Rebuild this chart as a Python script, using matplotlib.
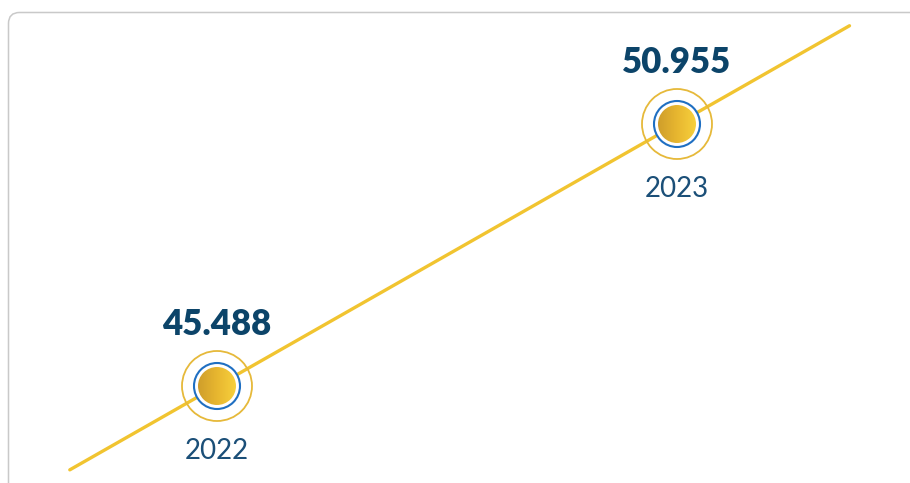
import numpy as np
import matplotlib
matplotlib.use("Agg")
import matplotlib.pyplot as plt
from matplotlib.patches import Ellipse, FancyBboxPatch
from matplotlib.colors import LinearSegmentedColormap

# Data
years = [2022, 2023]
values = [45.488, 50.955]
labels = ["45.488", "50.955"]

W, H = 910, 483
fig = plt.figure(figsize=(W / 100, H / 100), dpi=100)
ax = fig.add_axes([0, 0, 1, 1])

# pixel scale: 460 px per year, ~47.92 px per unit value
px_x = 460.0
px_y = (386 - 124) / (values[1] - values[0])
ax.set_xlim(years[0] - 217 / px_x, years[0] + (W - 217) / px_x)
ax.set_ylim(values[0] - (H - 386) / px_y, values[1] + 124 / px_y)
ax.axis("off")

# card border
card = FancyBboxPatch((8.5, -20), W + 30, H - 12.5 + 20,
                      boxstyle="round,pad=0,rounding_size=11",
                      transform=None, fill=False, edgecolor="#c9c9c9", lw=1.1)
fig.patches.append(card)

# trend line, extended past both points
slope = (values[1] - values[0]) / (years[1] - years[0])
x0, x1 = years[0] - 0.32, years[1] + 0.375
ax.plot([x0, x1], [values[0] + slope * (x0 - years[0]), values[0] + slope * (x1 - years[0])],
        color="#f1c430", lw=2.4, solid_capstyle="round", zorder=1)

gold = LinearSegmentedColormap.from_list("gold", ["#cf9e2b", "#e8b730", "#f8d23d"])
grad = np.linspace(0, 1, 256).reshape(1, -1)

for x, y, lab in zip(years, values, labels):
    # outer ring
    ax.add_patch(Ellipse((x, y), 2 * 35 / px_x, 2 * 35 / px_y, fill=False,
                         edgecolor="#e6b93a", lw=1.3, zorder=2))
    # blue ring with white face
    ax.add_patch(Ellipse((x, y), 2 * 23 / px_x, 2 * 23 / px_y, facecolor="white",
                         edgecolor="#1f6fc2", lw=1.5, zorder=3))
    # gradient disc
    disc = Ellipse((x, y), 2 * 19 / px_x, 2 * 19 / px_y, facecolor="none",
                   edgecolor="none", zorder=4)
    ax.add_patch(disc)
    im = ax.imshow(grad, cmap=gold, aspect="auto", zorder=4,
                   extent=[x - 19 / px_x, x + 19 / px_x, y - 19 / px_y, y + 19 / px_y])
    im.set_clip_path(disc)

    ax.annotate(lab, (x, y), xytext=(0, 44), textcoords="offset points",
                ha="center", va="center", fontsize=25, fontweight="heavy",
                family="Lato", color="#0c4469")
    ax.annotate(str(x), (x, y), xytext=(0, -47), textcoords="offset points",
                ha="center", va="center", fontsize=20, family="Lato",
                color="#1b4f78")

ax.set_xlim(years[0] - 217 / px_x, years[0] + (W - 217) / px_x)
ax.set_ylim(values[0] - (H - 386) / px_y, values[1] + 124 / px_y)

fig.savefig("out.png", dpi=100, facecolor="white")
